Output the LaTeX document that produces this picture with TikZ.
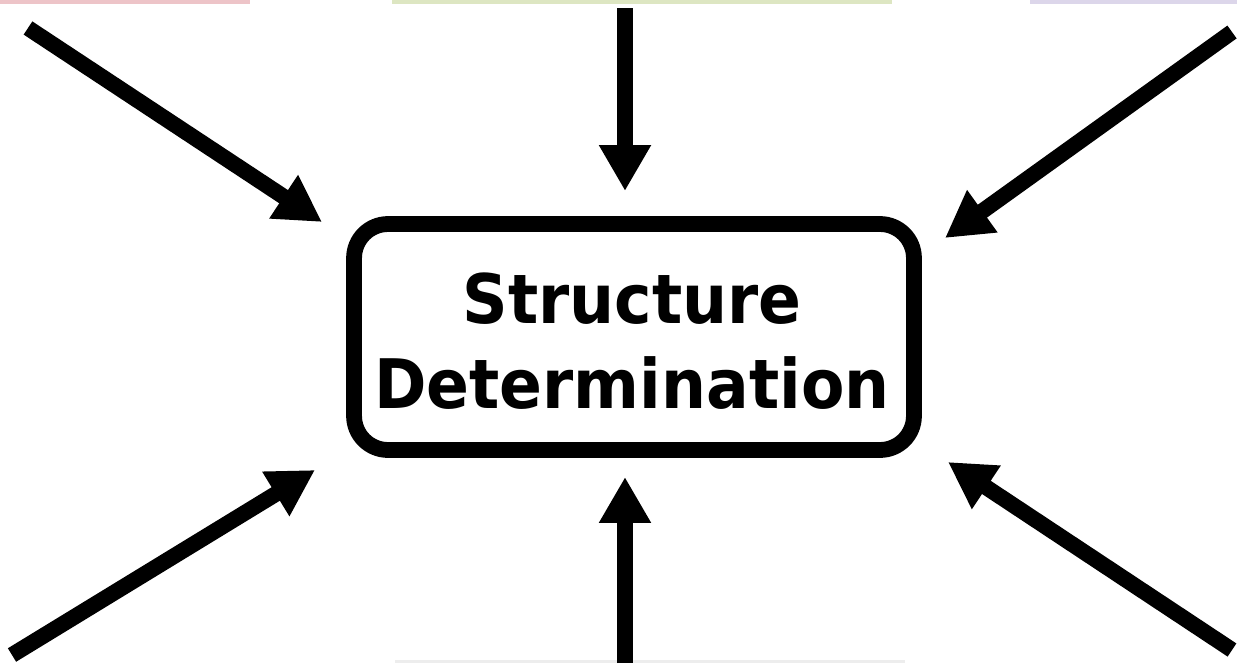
\documentclass[tikz,border=0pt]{standalone}
\usepackage{fontspec}
\usepackage{graphicx}
\setmainfont{DejaVu Sans}
\usetikzlibrary{arrows.meta}
\definecolor{pinkedge}{HTML}{EDC4C8}
\definecolor{greenedge}{HTML}{DDE6C2}
\definecolor{purpleedge}{HTML}{DCD6EA}
\definecolor{grayedge}{HTML}{EDEDED}
\tikzset{
  bigarrow/.style={line width=9pt,-{Triangle[length=0.92cm,width=0.98cm]}},
  mainbox/.style={draw,line width=9pt,rounded corners=0.68cm,minimum width=11.2cm,minimum height=4.52cm,inner sep=0pt},
  maintext/.style={align=center,inner sep=0pt,font=\fontsize{36}{48}\selectfont\bfseries},
  edgestrip/.style={inner sep=0pt,draw=none}
}
\begin{document}
\begin{tikzpicture}[x=0.02cm,y=-0.02cm]
\useasboundingbox (0,0) rectangle (1237,663);
% faint edges of boxes outside view
\node[edgestrip,fill=pinkedge,minimum width=5cm,minimum height=0.08cm,anchor=north west] (pinkbox) at (0,0) {};
\node[edgestrip,fill=greenedge,minimum width=10cm,minimum height=0.08cm,anchor=north west] (greenbox) at (392,0) {};
\node[edgestrip,fill=purpleedge,minimum width=4.2cm,minimum height=0.08cm,anchor=north west] (purplebox) at (1030,0) {};
\node[edgestrip,fill=grayedge,minimum width=10.2cm,minimum height=0.06cm,anchor=south west] (graybox) at (395,663) {};
% central box
\node[mainbox] (sd) at (634,337) {};
\node[maintext] (sdtext) at (632,348) {\scalebox{1.0}[1.08]{\begin{tabular}{@{}c@{}}Structure\\[-3pt]Determination\end{tabular}}};
% arrow endpoints
\coordinate (s1) at (28,28);   \coordinate (t1) at (322,222);
\coordinate (s2) at (625,8);   \coordinate (t2) at (625,191);
\coordinate (s3) at (1232,32); \coordinate (t3) at (945,238);
\coordinate (s4) at (12,655);  \coordinate (t4) at (315,470);
\coordinate (s5) at (625,663); \coordinate (t5) at (625,477);
\coordinate (s6) at (1232,650);\coordinate (t6) at (948,462);
\foreach \i in {1,...,6}{
  \draw[bigarrow] (s\i) -- (t\i);
}
\end{tikzpicture}
\end{document}
